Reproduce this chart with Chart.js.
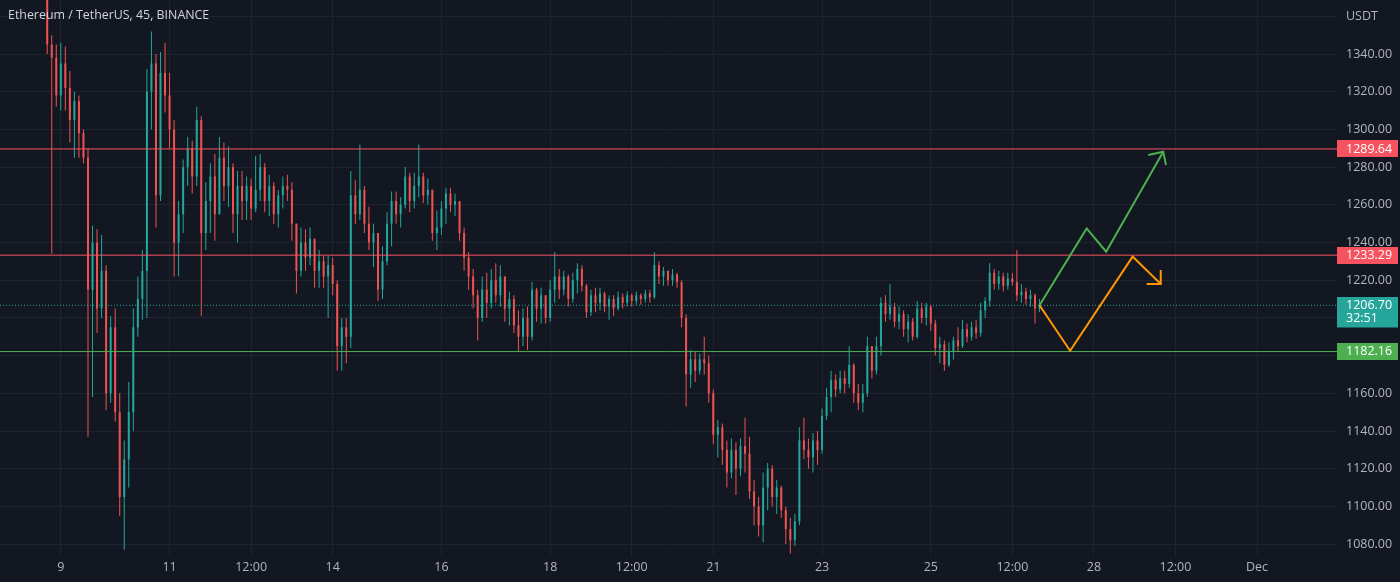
<!DOCTYPE html>
<html><head><meta charset="utf-8">
<script src="https://cdn.jsdelivr.net/npm/chart.js@4.4.0/dist/chart.umd.min.js"></script>
<style>html,body{margin:0;padding:0;background:#131722;overflow:hidden}canvas{display:block}</style>
</head><body>
<canvas id="c" width="1400" height="582"></canvas>
<script>
// ---------- data ----------
const chartTitle = 'Ethereum / TetherUS, 45, BINANCE';
const firstOpen = 1372;
const barStartHour = -6;   // hours from 9 Nov 00:00
const barHours = 2;
const closes = [
1345,1338,1318,1335,1322,1305,1315,1298,1285,1215,
1240,1205,1225,1160,1195,1150,1105,1125,1150,1195,
1210,1225,1320,1335,1265,1330,1318,1300,1240,1255,
1280,1290,1275,1305,1245,1262,1275,1255,1285,1270,
1280,1255,1270,1262,1270,1258,1268,1280,1262,1270,
1255,1265,1270,1268,1250,1225,1240,1232,1242,1225,
1230,1222,1228,1218,1185,1195,1190,1265,1255,1268,
1250,1240,1245,1215,1230,1250,1262,1255,1260,1275,
1262,1270,1275,1265,1268,1245,1248,1258,1266,1260,
1262,1245,1232,1222,1212,1200,1215,1208,1220,1212,
1222,1205,1210,1196,1190,1200,1190,1215,1205,1212,
1200,1215,1222,1215,1222,1210,1220,1226,1217,1203,
1212,1208,1213,1206,1210,1205,1211,1208,1212,1209,
1212,1210,1213,1211,1228,1222,1225,1220,1223,1219,
1200,1170,1178,1172,1178,1176,1160,1138,1142,1130,
1118,1130,1120,1132,1128,1108,1100,1090,1110,1120,
1105,1110,1098,1088,1082,1092,1135,1130,1126,1135,
1130,1148,1158,1167,1162,1168,1165,1175,1160,1155,
1160,1185,1172,1185,1208,1202,1206,1198,1202,1194,
1198,1190,1205,1200,1206,1197,1184,1186,1175,1182,
1188,1185,1194,1190,1195,1192,1204,1209,1224,1218,
1222,1217,1221,1219,1212,1214,1210,1212,1205,1206.7];
const highs = [
1385,1350,1345,1346,1344,1331,1320,1318,1300,1290,
1249,1247,1244,1228,1201,1205,1160,1135,1166,1205,
1222,1236,1332,1352,1340,1341,1346,1330,1305,1262,
1284,1296,1294,1312,1307,1272,1282,1287,1296,1293,
1291,1282,1278,1278,1275,1274,1286,1287,1282,1276,
1272,1268,1275,1276,1272,1250,1248,1247,1248,1242,
1236,1233,1233,1232,1220,1200,1200,1278,1273,1292,
1270,1259,1250,1245,1238,1256,1267,1267,1264,1280,
1277,1277,1292,1277,1274,1268,1257,1262,1269,1269,
1266,1262,1248,1235,1226,1215,1222,1224,1226,1229,
1228,1222,1214,1212,1204,1205,1206,1219,1216,1216,
1212,1220,1235,1226,1225,1223,1224,1229,1228,1218,
1215,1216,1216,1214,1212,1212,1214,1213,1214,1213,
1214,1213,1215,1215,1235,1230,1227,1225,1226,1224,
1220,1202,1183,1182,1181,1190,1180,1162,1146,1144,
1135,1136,1134,1136,1147,1137,1114,1105,1118,1123,
1122,1114,1111,1100,1094,1096,1142,1147,1136,1139,
1140,1152,1163,1172,1170,1172,1172,1185,1176,1165,
1165,1190,1185,1190,1211,1212,1218,1208,1206,1204,
1202,1200,1209,1208,1208,1207,1199,1190,1188,1187,
1190,1195,1199,1197,1198,1199,1208,1211,1229,1226,
1225,1224,1224,1224,1236,1218,1216,1215,1213,1210];
const lows = [
1340,1234,1312,1310,1310,1293,1285,1285,1282,1137,
1158,1192,1200,1151,1155,1145,1095,1077,1110,1140,
1190,1199,1200,1300,1248,1262,1309,1290,1222,1222,
1245,1270,1266,1270,1201,1236,1245,1241,1255,1262,
1259,1245,1240,1252,1252,1252,1256,1262,1256,1254,
1250,1248,1258,1262,1241,1213,1222,1225,1228,1216,
1216,1216,1200,1212,1172,1172,1176,1184,1250,1252,
1245,1236,1227,1209,1210,1228,1238,1250,1248,1258,
1256,1258,1264,1261,1260,1241,1236,1244,1250,1256,
1254,1241,1225,1215,1205,1188,1198,1200,1205,1208,
1206,1198,1196,1192,1182,1185,1183,1188,1198,1197,
1197,1198,1208,1210,1212,1206,1208,1213,1214,1200,
1201,1203,1204,1203,1199,1201,1204,1205,1206,1206,
1207,1207,1208,1208,1210,1218,1217,1217,1217,1216,
1195,1153,1163,1166,1170,1170,1155,1133,1126,1122,
1110,1115,1106,1116,1118,1104,1090,1084,1081,1098,
1100,1096,1094,1080,1075,1079,1090,1125,1120,1118,
1122,1128,1146,1150,1158,1160,1160,1163,1155,1151,
1150,1158,1168,1170,1180,1198,1199,1195,1194,1190,
1187,1188,1189,1197,1196,1193,1180,1176,1172,1174,
1178,1182,1184,1187,1188,1189,1190,1200,1206,1215,
1215,1214,1215,1217,1209,1208,1207,1206,1197,1203];

const xTickHours  = [0, 48, 84, 120, 168, 216, 252, 288, 336, 384, 420, 456, 492, 528];
const xTickLabels = ['9','11','12:00','14','16','18','12:00','21','23','25','12:00','28','12:00','Dec'];
const priceTicks  = [1080,1100,1120,1140,1160,1180,1200,1220,1240,1260,1280,1300,1320,1340,1360];
const axisUnitLabel = 'USDT';

const resistanceUpper = 1289.64;
const resistanceLower = 1233.29;
const supportLevel    = 1182.16;
const lastPrice       = 1206.70;
const countdown       = '32:51';

// projected scenario drawings (hour, price)
const bullPath = [[432,1206.7],[452.8,1247.5],[461.4,1235.1],[486.6,1288.2]];
const bullHead = [[480.0,1286.4],[486.6,1288.2],[487.8,1281.1]];
const bearPath = [[432,1206.7],[445.5,1182.6],[473.1,1232.5],[485.5,1218.0]];
const bearHead = [[479.3,1218.0],[485.5,1218.0],[485.5,1225.4]];

// ---------- view ----------
const X_MIN = -26.84, X_MAX = 563.3;
const Y_MIN = 1073.7, Y_MAX = 1368.65;
const BG = '#131722', GRID = '#1f2330', TXT = '#b2b5be';
const UP = '#26a69a', DOWN = '#ef5350', RED = '#f7525f', GREEN = '#4caf50', ORANGE = '#ff9800';
const FONT = '"Open Sans", "Noto Sans", sans-serif';

const opens = closes.map((c, i) => i === 0 ? firstOpen : closes[i - 1]);
const hours = closes.map((_, i) => barStartHour + i * barHours);
const candleColor = ctx => (closes[ctx.dataIndex] >= opens[ctx.dataIndex]) ? UP : DOWN;
const wickData = hours.map((h, i) => ({x: h, y: [lows[i], highs[i]]}));
const bodyData = hours.map((h, i) => ({x: h, y: [opens[i], closes[i]]}));
const pts = a => a.map(([x, y]) => ({x, y}));
const hline = v => [{x: X_MIN, y: v}, {x: X_MAX, y: v}];
const lineDs = (data, color, width, extra) => Object.assign({
  type: 'line', data, borderColor: color, borderWidth: width, pointRadius: 0,
  tension: 0, fill: false, order: 0
}, extra || {});

const bgPlugin = {
  id: 'bg',
  beforeDraw(chart) {
    const c = chart.ctx; c.save(); c.fillStyle = BG; c.fillRect(0, 0, chart.width, chart.height); c.restore();
  }
};
const overlayPlugin = {
  id: 'overlay',
  afterDraw(chart) {
    const c = chart.ctx, ys = chart.scales.y, left = chart.chartArea.right;
    c.save();
    const box = (v, color, lines) => {
      const y = ys.getPixelForValue(v);
      const h = 17 + (lines.length - 1) * 13.5;
      c.fillStyle = color;
      c.fillRect(left, Math.round(y - 8.5), 61, h);
      c.fillStyle = '#ffffff';
      c.font = '12.5px ' + FONT;
      c.textBaseline = 'middle';
      c.textAlign = 'left';
      lines.forEach((t, k) => c.fillText(t, left + 9, y + k * 13.5));
    };
    box(resistanceUpper, RED, [resistanceUpper.toFixed(2)]);
    box(resistanceLower, RED, [resistanceLower.toFixed(2)]);
    box(lastPrice, UP, [lastPrice.toFixed(2), countdown]);
    box(supportLevel, GREEN, [supportLevel.toFixed(2)]);
    c.fillStyle = '#d1d4dc';
    c.font = '12.4px ' + FONT;
    c.textBaseline = 'middle';
    c.textAlign = 'left';
    c.fillText(chartTitle, 8, 15);
    c.restore();
  }
};

new Chart(document.getElementById('c'), {
  type: 'bar',
  data: { datasets: [
    lineDs(pts(bullPath), GREEN, 2),
    lineDs(pts(bullHead), GREEN, 2),
    lineDs(pts(bearPath), ORANGE, 2),
    lineDs(pts(bearHead), ORANGE, 2),
    lineDs(hline(resistanceUpper), RED, 1, {order: 1}),
    lineDs(hline(resistanceLower), RED, 1, {order: 1}),
    lineDs(hline(supportLevel), GREEN, 1, {order: 1}),
    lineDs(hline(lastPrice), UP, 1, {order: 1, borderDash: [1, 2]}),
    { data: bodyData, backgroundColor: candleColor, barThickness: 2, grouped: false,
      minBarLength: 1, inflateAmount: 0, borderWidth: 0, order: 5 },
    { data: wickData, backgroundColor: candleColor, barThickness: 1, grouped: false,
      inflateAmount: 0, borderWidth: 0, order: 6 }
  ]},
  options: {
    responsive: false, animation: false, devicePixelRatio: 1,
    layout: { padding: 0 },
    plugins: { legend: { display: false }, tooltip: { enabled: false } },
    scales: {
      x: {
        type: 'linear', min: X_MIN, max: X_MAX, offset: false,
        grid: { color: GRID, offset: false, drawTicks: false },
        border: { display: false },
        afterBuildTicks: s => { s.ticks = xTickHours.map(v => ({value: v})); },
        ticks: { autoSkip: false, maxRotation: 0, minRotation: 0, padding: 4, color: TXT,
                 font: { family: FONT, size: 12.5 },
                 callback: v => { const k = xTickHours.indexOf(v); return k >= 0 ? xTickLabels[k] : ''; } },
        afterFit: s => { s.height = 26; s.paddingLeft = 0; s.paddingRight = 0; }
      },
      y: {
        position: 'right', min: Y_MIN, max: Y_MAX,
        grid: { color: GRID, drawTicks: false },
        border: { display: false },
        afterBuildTicks: s => { s.ticks = priceTicks.map(v => ({value: v})); },
        ticks: { padding: 9, color: TXT, font: { family: FONT, size: 12.5 },
                 callback: v => v === priceTicks[priceTicks.length - 1] ? axisUnitLabel : v.toFixed(2) },
        afterFit: s => { s.width = 63; s.paddingTop = 0; s.paddingBottom = 0; }
      }
    }
  },
  plugins: [bgPlugin, overlayPlugin]
});
</script>
</body></html>
